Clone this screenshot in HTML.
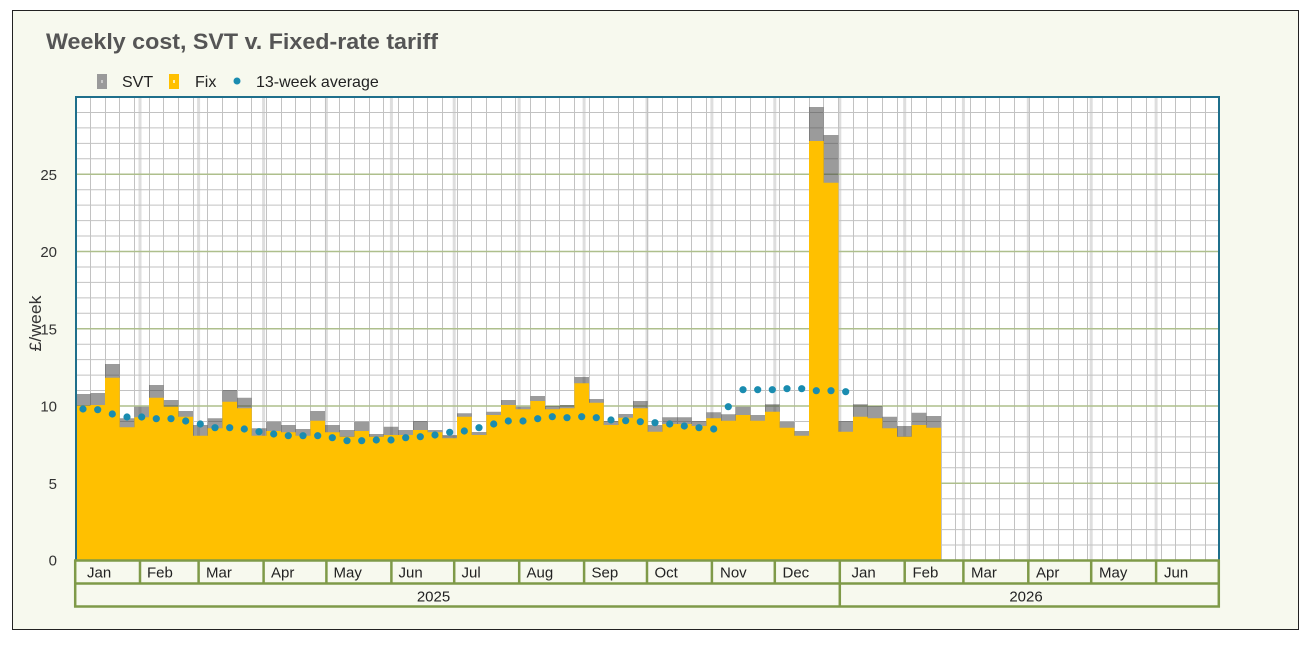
<!DOCTYPE html>
<html><head><meta charset="utf-8"><style>
html,body{margin:0;padding:0;background:#fff;}
svg{display:block;}
text{font-family:"Liberation Sans",sans-serif;}
</style></head><body>
<svg width="1311" height="653" viewBox="0 0 1311 653" xmlns="http://www.w3.org/2000/svg">
<rect x="0" y="0" width="1311" height="653" fill="#fff"/>
<rect x="12.5" y="10.5" width="1286" height="619" fill="#f7f9ee" stroke="#222" stroke-width="1"/>
<text x="46" y="49" font-size="22" font-weight="600" fill="#555" textLength="392" lengthAdjust="spacingAndGlyphs">Weekly cost, SVT v. Fixed-rate tariff</text>
<rect x="97" y="74" width="10" height="15" fill="#9a9a9a"/><rect x="101" y="80" width="2" height="3" fill="#c8c8c8"/>
<text x="122" y="87" font-size="16" fill="#222">SVT</text>
<rect x="169" y="74" width="10" height="15" fill="#ffc000"/><rect x="173" y="80" width="2" height="3" fill="#fff0b0"/>
<text x="195" y="87" font-size="16" fill="#222">Fix</text>
<circle cx="237" cy="81" r="3.5" fill="#1a8cb0"/>
<text x="256" y="87" font-size="16" fill="#222">13-week average</text>
<rect x="75" y="97" width="1144" height="463" fill="#fff"/>
<path stroke="#dedede" stroke-width="3" d="M140,97V560M198.6,97V560M263.6,97V560M326.4,97V560M391.4,97V560M454.2,97V560M519.2,97V560M584.1,97V560M647,97V560M711.9,97V560M774.8,97V560M839.8,97V560M904.7,97V560M963.4,97V560M1028.3,97V560M1091.2,97V560M1156.1,97V560"/>
<path stroke="#c2c2c2" stroke-width="1" d="M90.5,97V560M105.5,97V560M119.5,97V560M134.5,97V560M149.5,97V560M163.5,97V560M178.5,97V560M193.5,97V560M207.5,97V560M222.5,97V560M237.5,97V560M251.5,97V560M266.5,97V560M281.5,97V560M295.5,97V560M310.5,97V560M325.5,97V560M339.5,97V560M354.5,97V560M369.5,97V560M383.5,97V560M398.5,97V560M413.5,97V560M427.5,97V560M442.5,97V560M457.5,97V560M471.5,97V560M486.5,97V560M501.5,97V560M515.5,97V560M530.5,97V560M545.5,97V560M559.5,97V560M574.5,97V560M589.5,97V560M603.5,97V560M618.5,97V560M633.5,97V560M647.5,97V560M662.5,97V560M677.5,97V560M691.5,97V560M706.5,97V560M721.5,97V560M735.5,97V560M750.5,97V560M765.5,97V560M779.5,97V560M794.5,97V560M809.5,97V560M823.5,97V560M838.5,97V560M853.5,97V560M867.5,97V560M882.5,97V560M897.5,97V560M911.5,97V560M926.5,97V560M941.5,97V560M955.5,97V560M970.5,97V560M985.5,97V560M999.5,97V560M1014.5,97V560M1029.5,97V560M1043.5,97V560M1058.5,97V560M1073.5,97V560M1087.5,97V560M1102.5,97V560M1117.5,97V560M1131.5,97V560M1146.5,97V560M1161.5,97V560M1175.5,97V560M1190.5,97V560M1205.5,97V560M75,545.05H1219M75,529.6H1219M75,514.15H1219M75,498.7H1219M75,467.8H1219M75,452.35H1219M75,436.9H1219M75,421.45H1219M75,390.55H1219M75,375.1H1219M75,359.65H1219M75,344.2H1219M75,313.3H1219M75,297.85H1219M75,282.4H1219M75,266.95H1219M75,236.05H1219M75,220.6H1219M75,205.15H1219M75,189.7H1219M75,158.8H1219M75,143.35H1219M75,127.9H1219M75,112.45H1219"/>
<path stroke="#aebf8c" stroke-width="1.6" d="M75,483.25H1219M75,406H1219M75,328.75H1219M75,251.5H1219M75,174.25H1219"/>
<path fill="#404040" fill-opacity="0.52" d="M75 560V394H90.4V393H105V364H119.7V418.3H134.4V406.7H149V385H163.7V400H178.4V411H193V425H207.7V418.3H222.4V390H237V397.7H251.7V428.3H266.4V421.7H281V425H295.7V429H310.4V411H325V425H339.7V430H354.4V421.7H369V434H383.7V426.7H398.4V430H413V421H427.7V430H442.4V435H457V413.3H471.7V432H486.4V411.7H501V400H515.7V406.7H530.4V396H545V406H559.7V405H574.4V377H589V399H603.7V421H618.4V414H633V401H647.7V425H662.4V417.3H677V417.3H691.7V421H706.4V412.3H721V414.3H735.7V406.7H750.4V415H765V404.3H779.7V421.7H794.4V431H809V107H823.7V135H838.4V421H853V404.3H867.7V406H882.4V416.7H897V426H911.7V412.7H926.4V416H941V560Z"/>
<path fill="#ffc000" d="M75 560V405.7H90.4V405H105V377.7H119.7V427.3H134.4V417.3H149V397.7H163.7V406.7H178.4V416.7H193V435.7H207.7V428.3H222.4V401.7H237V408.3H251.7V435.7H266.4V431H281V432.3H295.7V435.7H310.4V420.7H325V432.3H339.7V436.7H354.4V431H369V436.7H383.7V435H398.4V435H413V430H427.7V432.3H442.4V438.3H457V416.7H471.7V435H486.4V415H501V405H515.7V409.3H530.4V401H545V409.3H559.7V408.3H574.4V383.3H589V402.7H603.7V425H618.4V417.7H633V408.3H647.7V431.7H662.4V424H677V424H691.7V426H706.4V418.3H721V420.7H735.7V415H750.4V420.7H765V411.7H779.7V427.7H794.4V435.7H809V141H823.7V182.7H838.4V431.7H853V416.7H867.7V418.3H882.4V428.3H897V436.7H911.7V425H926.4V427.7H941V560Z"/>
<path fill="none" stroke="#1a8cb0" stroke-width="7.2" stroke-linecap="round" d="M83 409h0M97.7 409.7h0M112.3 414h0M127 417h0M141.7 417h0M156.3 418.7h0M171 418.7h0M185.7 421h0M200.3 424h0M215 427.7h0M229.7 427.7h0M244.3 429h0M259 431.7h0M273.7 434h0M288.3 435.7h0M303 435.7h0M317.7 435.7h0M332.3 437.7h0M347 440.7h0M361.7 440.7h0M376.3 440h0M391 440h0M405.7 437.7h0M420.3 436.7h0M435 435h0M449.7 432.3h0M464.3 431h0M479 427.7h0M493.7 424h0M508.3 421h0M523 421h0M537.7 418.7h0M552.3 416.7h0M567 417.7h0M581.7 416.7h0M596.3 417.7h0M611 420h0M625.7 420.7h0M640.3 421.7h0M655 422.7h0M669.7 424h0M684.3 426h0M699 427.7h0M713.7 429h0M728.3 406.7h0M743 389.7h0M757.7 389.7h0M772.3 389.7h0M787 388.7h0M801.7 388.7h0M816.3 390.7h0M831 390.7h0M845.7 391.7h0"/>
<path d="M75,560H1219" stroke="#888" stroke-width="1"/>
<path d="M76,560V97H1219V560" fill="none" stroke="#1f6f8b" stroke-width="2"/>
<g fill="#333" font-size="15" text-anchor="end">
<text x="57" y="565.5">0</text>
<text x="57" y="488.75">5</text>
<text x="57" y="411.5">10</text>
<text x="57" y="334.25">15</text>
<text x="57" y="257">20</text>
<text x="57" y="179.75">25</text>
</g>
<text transform="translate(41,323.5) rotate(-90)" text-anchor="middle" font-size="17" fill="#333" textLength="56" lengthAdjust="spacingAndGlyphs">£/week</text>
<path stroke="#7f9a48" stroke-width="2.5" fill="none" d="M74,560.5H1220M75,583.5H1219M74,606.5H1220M75.2,560V607.5M1218.8,560V607.5M839.8,560V607M140,560V583.5M198.6,560V583.5M263.6,560V583.5M326.4,560V583.5M391.4,560V583.5M454.2,560V583.5M519.2,560V583.5M584.1,560V583.5M647,560V583.5M711.9,560V583.5M774.8,560V583.5M904.7,560V583.5M963.4,560V583.5M1028.3,560V583.5M1091.2,560V583.5M1156.1,560V583.5"/>
<g fill="#222" font-size="15">
<text x="87" y="577.5">Jan</text>
<text x="147" y="577.5">Feb</text>
<text x="206" y="577.5">Mar</text>
<text x="271" y="577.5">Apr</text>
<text x="333.5" y="577.5">May</text>
<text x="398.5" y="577.5">Jun</text>
<text x="461.5" y="577.5">Jul</text>
<text x="526.5" y="577.5">Aug</text>
<text x="591.5" y="577.5">Sep</text>
<text x="654.5" y="577.5">Oct</text>
<text x="720" y="577.5">Nov</text>
<text x="782.5" y="577.5">Dec</text>
<text x="851.5" y="577.5">Jan</text>
<text x="912.5" y="577.5">Feb</text>
<text x="971" y="577.5">Mar</text>
<text x="1036" y="577.5">Apr</text>
<text x="1099" y="577.5">May</text>
<text x="1164" y="577.5">Jun</text>
</g>
<g fill="#222" font-size="15" text-anchor="middle">
<text x="433.5" y="601.5">2025</text>
<text x="1026" y="601.5">2026</text>
</g>
</svg>
</body></html>
